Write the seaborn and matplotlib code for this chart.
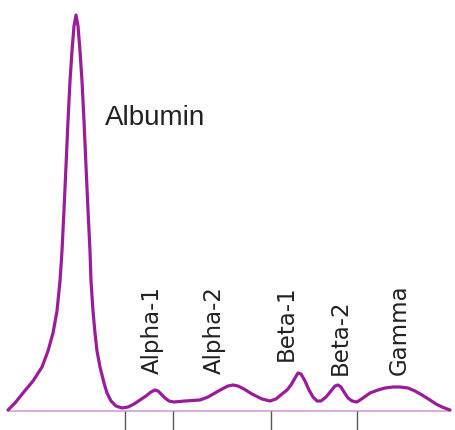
import matplotlib
matplotlib.use("Agg")
import matplotlib.pyplot as plt
import seaborn as sns
import pandas as pd

# densitometer trace (position, intensity above baseline)
position = [8, 15, 23, 33, 42, 48, 53, 57, 60, 62, 64, 66, 68, 70, 72, 74, 76,
            78, 80, 82, 84, 86, 88, 90, 91, 93, 95, 97, 100, 104, 107, 111, 116,
            122, 128, 134, 140, 146, 151, 155, 158, 161, 165, 169, 174, 185, 200,
            208, 215, 222, 228, 233, 238, 244, 252, 262, 270, 276, 282, 287,
            291, 295, 298, 301, 305, 309, 313, 317, 321, 326, 331, 335, 338,
            341, 344, 348, 352, 357, 363, 370, 378, 385, 393, 400, 408, 415,
            422, 430, 436, 442, 450]
intensity = [1, 8, 18, 30, 44, 60, 78, 100, 130, 160, 201, 245, 290, 330, 360,
             385, 396, 385, 360, 330, 290, 245, 201, 160, 130, 100, 78, 60, 44,
             28, 18, 10, 5, 3, 4, 7, 11, 15, 19, 21, 20, 17, 13, 10, 9, 10, 11,
             14, 18, 22, 25, 26, 25, 22, 17, 12, 10, 12, 17, 21, 26, 33, 38,
             37, 30, 21, 14, 10, 10, 14, 20, 25, 26, 24, 19, 13, 10, 9, 13, 18,
             21, 23, 24, 24, 23, 20, 16, 11, 7, 4, 1]

# fraction boundaries (tick marks under the baseline)
boundaries = [125, 173, 271, 357]

# fraction labels
labels = ["Alpha-1", "Alpha-2", "Beta-1", "Beta-2", "Gamma"]
label_x = [152, 214, 286, 340, 399]
label_y = [37, 37, 50, 36, 36]

df = pd.DataFrame({"position": position, "intensity": intensity})

sns.set_style("white")
plt.rcParams["font.family"] = ["Liberation Sans", "DejaVu Sans"]

fig = plt.figure(figsize=(4.56, 4.30), dpi=100)
ax = fig.add_axes([0, 0, 1, 1])

# baseline
ax.plot([8, 450], [0, 0], color="#d8a6d8", lw=1.3, zorder=1)
# boundary ticks
ax.vlines(boundaries, -19, 0, color="#555555", lw=1.0, zorder=1)

sns.lineplot(data=df, x="position", y="intensity", sort=False, ax=ax,
             color="#9b1c9b", lw=2.3, zorder=3)
ax.lines[-1].set_solid_joinstyle("round")
ax.lines[-1].set_solid_capstyle("round")

ax.text(105, 293, "Albumin", fontsize=20, color="#222222", ha="left", va="center")
for lab, x, y in zip(labels, label_x, label_y):
    ax.text(x, y, lab, rotation=90, fontsize=16.5, color="#222222",
            ha="center", va="bottom", family="DejaVu Sans")

ax.set_xlim(0, 456)
ax.set_ylim(-19, 411)
ax.set_axis_off()

fig.savefig("out.png", dpi=100, facecolor="white")
